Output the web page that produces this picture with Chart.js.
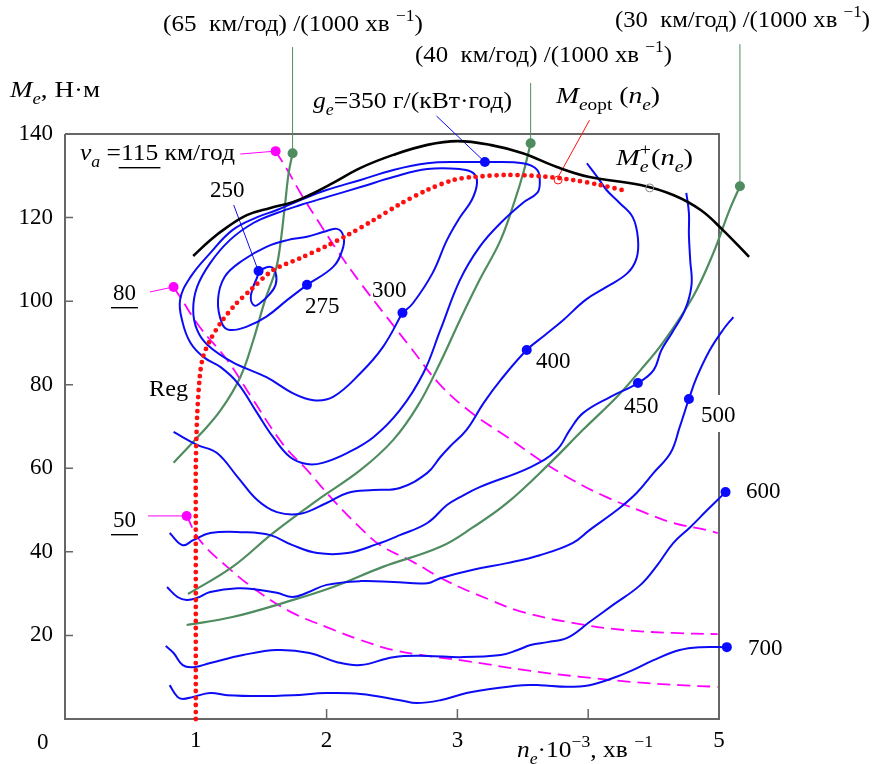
<!DOCTYPE html>
<html>
<head>
<meta charset="utf-8">
<script src="https://cdn.jsdelivr.net/npm/chart.js@4.4.1/dist/chart.umd.min.js"></script>
<style>
  html, body { margin: 0; padding: 0; background: #fff; }
  #wrap { width: 875px; height: 764px; }
</style>
</head>
<body>
<div id="wrap"><canvas id="mapChart" width="875" height="764"></canvas></div>
<script>
// points are [n_e*10^-3 (1/min), M_e (N*m)]
var ge250 = [[1.48,107.3],[1.57,108.2],[1.61,106.8],[1.61,103.9],[1.56,101.5],[1.49,99.5],[1.45,98.9],[1.42,100.7],[1.44,103.5],[1.47,105.8],[1.48,107.3]];
var ge275 = [[1.85,103.9],[2.05,108.2],[2.12,112.2],[2.13,115.4],[2.08,117.3],[1.98,116.6],[1.85,115.4],[1.70,114.6],[1.54,113.0],[1.36,109.8],[1.22,105.8],[1.17,100.3],[1.20,94.7],[1.26,93.1],[1.39,93.9],[1.54,96.3],[1.70,100.3],[1.85,103.9]];
var ge300 = [[2.58,97.2],[2.66,99.5],[2.81,106.7],[2.92,114.6],[3.02,120.1],[3.11,124.2],[3.15,128.3],[3.12,130.7],[3.02,131.6],[2.77,131.6],[2.51,129.7],[2.26,127.3],[2.00,124.9],[1.80,123.0],[1.62,121.1],[1.44,118.7],[1.26,114.6],[1.11,109.1],[1.01,103.4],[0.98,97.9],[1.01,93.1],[1.09,89.5],[1.28,85.4],[1.54,81.8],[1.74,78.0],[1.90,76.3],[2.05,77.1],[2.26,82.8],[2.43,89.0],[2.58,97.2]];
var ge350 = [[3.21,133.3],[3.50,133.0],[3.61,131.4],[3.63,128.3],[3.61,125.9],[3.50,123.5],[3.33,118.7],[3.17,113.0],[3.02,105.1],[2.87,93.1],[2.74,82.8],[2.56,73.9],[2.36,67.5],[2.16,63.7],[1.97,61.3],[1.85,61.0],[1.72,62.7],[1.59,67.5],[1.47,73.2],[1.32,80.4],[1.19,84.2],[1.06,86.6],[0.96,90.0],[0.90,94.8],[0.88,100.3],[0.96,105.8],[1.11,111.5],[1.28,117.0],[1.47,120.1],[1.62,121.8],[1.80,124.2],[2.00,126.6],[2.26,129.0],[2.51,131.4],[2.77,133.0],[3.02,133.3],[3.21,133.3]];
var ge400 = [[3.99,133.0],[4.07,129.7],[4.14,126.6],[4.24,123.5],[4.34,120.1],[4.38,115.1],[4.37,110.3],[4.30,106.7],[4.14,103.4],[3.98,100.3],[3.81,95.5],[3.67,91.9],[3.53,88.3],[3.33,81.1],[3.20,75.6],[3.07,69.2],[2.94,65.1],[2.87,62.7],[2.77,58.9],[2.56,55.3],[2.36,54.8],[2.16,54.1],[2.00,51.7],[1.80,49.1],[1.62,49.5],[1.47,52.4],[1.32,57.9],[1.16,63.7],[1.01,65.6],[0.83,68.7]];
var ge450 = [[0.80,44.5],[0.90,41.6],[0.98,42.8],[1.11,44.5],[1.36,44.7],[1.57,44.0],[1.74,41.6],[1.93,39.7],[2.16,39.7],[2.39,41.9],[2.56,44.0],[2.77,46.9],[2.92,51.2],[3.02,53.1],[3.17,55.5],[3.56,60.3],[3.76,64.4],[3.86,69.2],[3.96,73.2],[4.17,77.1],[4.38,80.4],[4.50,83.5],[4.56,88.3],[4.64,92.4],[4.74,97.9],[4.79,103.9],[4.78,109.8],[4.77,115.8],[4.77,121.1],[4.75,125.9]];
var ge500 = [[0.78,31.6],[0.86,29.2],[0.93,28.5],[1.01,29.0],[1.11,30.4],[1.32,31.3],[1.49,30.9],[1.62,30.2],[1.74,29.2],[1.85,30.2],[2.00,32.1],[2.26,33.0],[2.51,32.8],[2.77,32.5],[2.87,33.7],[3.12,35.7],[3.38,37.3],[3.63,39.2],[3.88,42.1],[4.01,45.2],[4.22,50.0],[4.37,54.1],[4.50,58.9],[4.63,63.7],[4.70,69.9],[4.77,76.6],[4.83,81.8],[4.93,88.3],[5.03,93.1],[5.11,96.2]];
var ge600 = [[0.77,17.5],[0.83,15.8],[0.90,12.9],[0.98,12.4],[1.11,13.4],[1.36,15.3],[1.62,16.5],[1.87,15.8],[2.08,13.6],[2.26,12.9],[2.51,14.8],[2.77,15.1],[3.02,14.8],[3.33,15.3],[3.46,16.5],[3.56,17.7],[3.69,18.4],[3.84,19.4],[4.01,23.2],[4.19,27.3],[4.40,32.1],[4.53,36.9],[4.65,42.1],[4.78,45.9],[4.91,50.0],[5.05,54.3]];
var ge700 = [[0.80,8.1],[0.86,5.3],[0.90,4.8],[0.98,5.3],[1.11,6.2],[1.24,5.7],[1.49,5.5],[1.74,5.7],[2.00,6.2],[2.26,6.0],[2.56,4.5],[2.69,3.8],[2.87,4.5],[3.07,6.2],[3.25,7.2],[3.50,8.1],[3.63,8.1],[3.84,7.7],[4.01,8.1],[4.19,9.8],[4.34,11.7],[4.50,14.1],[4.70,16.5],[4.86,17.2],[5.05,17.2]];

// full-load torque M_e+(n_e) and optimal torque M_eopt(n_e)
var meMax = [[0.98,110.8],[1.11,114.6],[1.24,117.7],[1.39,120.6],[1.57,122.3],[1.74,123.7],[1.87,125.4],[2.05,128.3],[2.26,131.9],[2.51,135.0],[2.77,137.4],[3.00,138.3],[3.25,137.4],[3.50,135.4],[3.76,132.1],[4.01,129.7],[4.40,127.8],[4.65,125.4],[4.86,121.8],[5.03,117.0],[5.23,110.6]];
var meOpt = [[1.0,0],[1.0,28.5],[1.0,47.6],[1.0,60.3],[1.01,72.3],[1.03,81.8],[1.055,86.6],[1.11,90.7],[1.19,94.8],[1.30,99.1],[1.42,102.7],[1.59,107.4],[1.80,110.3],[2.00,113.2],[2.16,115.8],[2.36,119.4],[2.56,123.2],[2.77,126.6],[2.97,129.0],[3.12,129.7],[3.38,130.2],[3.63,129.9],[3.88,129.0],[4.09,127.8],[4.30,126.3]];

// gear lines, (km/h)/(1000 1/min)
var gear65 = [[0.83,61.3],[1.03,68.0],[1.19,73.9],[1.34,81.8],[1.44,90.7],[1.53,100.3],[1.61,107.4],[1.64,112.2],[1.68,122.5],[1.71,130.7],[1.74,135.4]];
var gear40 = [[0.94,29.9],[1.28,36.4],[1.59,44.5],[1.93,52.4],[2.26,59.6],[2.51,66.8],[2.70,75.1],[2.87,85.4],[3.02,95.5],[3.17,105.1],[3.33,114.6],[3.44,124.2],[3.51,131.4],[3.56,137.8]];
var gear30 = [[0.93,22.5],[1.28,24.4],[1.67,27.8],[2.05,31.6],[2.43,36.4],[2.87,41.2],[3.12,45.9],[3.38,51.7],[3.71,61.3],[3.96,69.2],[4.22,77.1],[4.40,83.5],[4.57,90.0],[4.80,101.0],[4.95,111.0],[5.08,121.8],[5.16,127.5]];

// constant vehicle speed, km/h
var va115 = [[1.61,135.9],[1.70,131.4],[1.80,125.9],[1.93,119.4],[2.08,112.2],[2.26,104.3],[2.46,96.2],[2.64,89.0],[2.87,79.9],[3.12,73.0],[3.38,67.5],[3.63,62.0],[3.88,57.2],[4.14,53.1],[4.40,49.8],[4.65,46.9],[4.91,45.2],[4.99,44.5]];
var va80 = [[0.83,103.4],[0.88,101.0],[1.03,93.8],[1.24,85.9],[1.44,76.3],[1.67,65.6],[1.85,59.6],[2.05,52.4],[2.26,45.7],[2.41,41.6],[2.66,37.6],[2.92,33.0],[3.25,28.5],[3.50,25.6],[3.88,23.0],[4.27,21.3],[4.65,20.6],[4.99,20.3]];
var va50 = [[0.93,48.6],[1.03,42.8],[1.24,36.4],[1.49,30.2],[1.74,25.4],[2.00,22.0],[2.26,18.9],[2.51,16.5],[2.77,15.1],[3.02,14.1],[3.56,11.5],[3.94,10.1],[4.32,8.9],[4.70,8.1],[4.99,7.7]];

// label dots and leader lines
var geDots = [[1.48,107.2],[1.85,103.9],[2.58,97.2],[3.21,133.3],[3.53,88.3],[4.38,80.4],[4.77,76.6],[5.05,54.3],[5.06,17.2]];
var vaDots = [[1.61,135.9],[0.83,103.4],[0.93,48.6]];
var gearDots = [[1.74,135.4],[3.56,137.8],[5.16,127.5]];
var lead250 = [[1.29,123.0],[1.47,107.9]];
var lead350 = [[2.84,144.3],[3.21,133.3]];
var leadOpt = [[4.01,143.3],[3.77,129.7]];
var lead115 = [[1.34,135.2],[1.61,135.9]];
var lead80 = [[0.65,102.2],[0.83,103.4]];
var lead50 = [[0.635,48.6],[0.93,48.6]];
var lead65 = [[1.74,135.4],[1.74,160.8]];
var lead40 = [[3.56,137.8],[3.56,152.2]];
var lead30 = [[5.16,127.5],[5.16,161.5]];
var optMark = [[3.77,129.0]];
var maxMark = [[4.47,127.1]];

var xTicks = [1, 2, 3, 5];
var yTicks = [20, 40, 60, 80, 100, 120, 140];
var X_END = 5, Y_END = 140;   // the framed part of the plot

function pts(a) { return a.map(function (p) { return { x: p[0], y: p[1] }; }); }

var BLUE = '#0c0cf4', GREEN = '#4f8c5f', PINK = '#ff00ff', RED = '#ff1010';
var SERIF = '"Liberation Serif", "Times New Roman", serif';

function curve(data, color, width, extra) {
  return Object.assign({
    data: pts(data), showLine: true, borderColor: color, borderWidth: width,
    pointRadius: 0, tension: 0.4, clip: false, fill: false
  }, extra || {});
}
function thin(data, color) {
  return curve(data, color, 1, { tension: 0 });
}
function dots(data, color, r) {
  return { data: pts(data), showLine: false, pointRadius: r, backgroundColor: color, borderWidth: 0, clip: false };
}
function ring(data, color) {
  return { data: pts(data), showLine: false, pointRadius: 4, backgroundColor: 'rgba(0,0,0,0)', borderColor: color, borderWidth: 1, clip: false };
}

// text with sub/superscripts, optionally stretched to a given width
function runs(ctx, x, y, parts, size, width) {
  var setFont = function (p) {
    var fs = (p.sub || p.sup) ? Math.round(size * 0.68) : size;
    ctx.font = (p.it ? 'italic ' : '') + fs + 'px ' + SERIF;
  };
  var total = 0;
  parts.forEach(function (p) { setFont(p); if (!p.keep) total += ctx.measureText(p.t).width; });
  var sx = width ? width / total : 1;
  ctx.save();
  ctx.translate(x, y);
  ctx.scale(sx, 1);
  var cx = 0;
  parts.forEach(function (p) {
    setFont(p);
    var dy = p.sub ? size * 0.3 : (p.sup ? -size * 0.42 : 0);
    ctx.fillText(p.t, cx, dy);
    var w = ctx.measureText(p.t).width;
    if (p.u) { ctx.fillRect(cx - 2, 7, w + 4, 1.4); }
    if (!p.keep) cx += w;
  });
  ctx.restore();
}

var decor = {
  id: 'decor',
  beforeDatasetsDraw: function (chart) {
    var ctx = chart.ctx, xs = chart.scales.x, ys = chart.scales.y;
    var L = xs.getPixelForValue(0), R = xs.getPixelForValue(X_END);
    var T = ys.getPixelForValue(Y_END), B = ys.getPixelForValue(0);
    ctx.save();
    ctx.strokeStyle = '#666';
    ctx.lineWidth = 2;
    ctx.beginPath();
    ctx.moveTo(L, T); ctx.lineTo(L, B); ctx.lineTo(R, B);
    ctx.lineTo(R, 432);
    ctx.moveTo(R, 395); ctx.lineTo(R, T); ctx.lineTo(L, T);
    ctx.stroke();
    ctx.lineWidth = 1.5;
    ctx.beginPath();
    [2, 3, 4].forEach(function (v) {
      var px = xs.getPixelForValue(v);
      ctx.moveTo(px, B); ctx.lineTo(px, B - 10);
    });
    yTicks.slice(0, -1).forEach(function (v) {
      var py = ys.getPixelForValue(v);
      ctx.moveTo(L, py); ctx.lineTo(L + 8, py);
    });
    ctx.stroke();
    ctx.restore();
  },
  afterDatasetsDraw: function (chart) {
    var ctx = chart.ctx;
    ctx.save();
    ctx.fillStyle = '#000';
    ctx.textBaseline = 'alphabetic';
    ctx.textAlign = 'left';
    var S = 23;
    var gearTxt = function (v) {
      return [{ t: '(' + v + '  км/год) /(1000 хв ' }, { t: '−1', sup: true }, { t: ')' }];
    };
    runs(ctx, 163, 31, gearTxt(65), S, 260);
    runs(ctx, 415, 62, gearTxt(40), S, 257);
    runs(ctx, 615, 27, gearTxt(30), S, 255);
    runs(ctx, 10, 97, [{ t: 'M', it: true }, { t: 'e', it: true, sub: true }, { t: ', Н·м' }], S, 90);
    runs(ctx, 313, 108, [{ t: 'g', it: true }, { t: 'e', it: true, sub: true }, { t: '=350 г/(кВт·год)' }], S, 199);
    runs(ctx, 556, 103, [{ t: 'M', it: true }, { t: 'e', it: true, sub: true }, { t: 'opt', sub: true }, { t: ' (' }, { t: 'n', it: true }, { t: 'e', it: true, sub: true }, { t: ')' }], S, 104);
    runs(ctx, 80, 160, [{ t: 'v', it: true }, { t: 'a', it: true, sub: true }, { t: ' =' }, { t: '115', u: true }, { t: ' км/год' }], S, 155);
    runs(ctx, 616, 165, [{ t: 'M', it: true }, { t: 'e', it: true, sub: true, keep: true }, { t: '+', sup: true }, { t: '(' }, { t: 'n', it: true }, { t: 'e', it: true, sub: true }, { t: ')' }], S, 77);
    runs(ctx, 517, 757, [{ t: 'n', it: true }, { t: 'e', it: true, sub: true }, { t: '·10' }, { t: '−3', sup: true }, { t: ', хв ' }, { t: '−1', sup: true }], S, 136);
    runs(ctx, 113, 300, [{ t: '80', u: true }], S);
    runs(ctx, 113, 527, [{ t: '50', u: true }], S);
    runs(ctx, 149, 396, [{ t: 'Reg' }], S, 39);
    ctx.font = S + 'px ' + SERIF;
    [['250', 210, 197], ['275', 305, 313], ['300', 372, 297], ['400', 536, 368], ['450', 624, 413],
     ['500', 701, 422], ['600', 746, 498], ['700', 748, 655], ['0', 37, 749]].forEach(function (l) {
      ctx.fillText(l[0], l[1], l[2]);
    });
    ctx.restore();
  }
};

var dash = [13, 7];

new Chart(document.getElementById('mapChart').getContext('2d'), {
  type: 'scatter',
  data: {
    datasets: [
      dots(geDots, '#0a0aff', 5),
      dots(vaDots, PINK, 5),
      dots(gearDots, GREEN, 5),
      ring(optMark, RED),
      ring(maxMark, '#888'),
      curve(meOpt, RED, 4.8, { tension: 0.3, borderDash: [0, 7], borderCapStyle: 'round' }),
      curve(meMax, '#000', 2.6),
      curve(ge250, BLUE, 2),
      curve(ge275, BLUE, 2),
      curve(ge300, BLUE, 2),
      curve(ge350, BLUE, 2),
      curve(ge400, BLUE, 2),
      curve(ge450, BLUE, 2),
      curve(ge500, BLUE, 2),
      curve(ge600, BLUE, 2),
      curve(ge700, BLUE, 2),
      thin(lead250, BLUE),
      thin(lead350, BLUE),
      thin(leadOpt, RED),
      curve(gear65, GREEN, 2.2),
      curve(gear40, GREEN, 2.2),
      curve(gear30, GREEN, 2.2),
      thin(lead65, GREEN),
      thin(lead40, GREEN),
      thin(lead30, GREEN),
      curve(va115, PINK, 1.8, { borderDash: dash }),
      curve(va80, PINK, 1.8, { borderDash: dash }),
      curve(va50, PINK, 1.8, { borderDash: dash }),
      thin(lead115, PINK),
      thin(lead80, PINK),
      thin(lead50, PINK)
    ]
  },
  options: {
    responsive: false,
    animation: false,
    // plot area runs to 5.3 x 162 so the marks drawn past the frame stay visible
    layout: { padding: { left: 0, right: 116.76, top: 42.07, bottom: 0 } },
    elements: { line: { capBezierPoints: false } },
    plugins: { legend: { display: false }, tooltip: { enabled: false } },
    scales: {
      x: {
        type: 'linear', min: 0, max: 5.3,
        afterFit: function (s) { s.height = 45; },
        afterBuildTicks: function (s) { s.ticks = xTicks.map(function (v) { return { value: v }; }); },
        grid: { display: false, drawTicks: false },
        border: { display: false },
        ticks: { padding: 8, color: '#000', maxRotation: 0, autoSkip: false, font: { family: SERIF, size: 23 } }
      },
      y: {
        min: 0, max: 162,
        afterFit: function (s) { s.width = 65; },
        afterBuildTicks: function (s) { s.ticks = yTicks.map(function (v) { return { value: v }; }); },
        grid: { display: false, drawTicks: false },
        border: { display: false },
        ticks: { padding: 12, color: '#000', font: { family: SERIF, size: 23 } }
      }
    }
  },
  plugins: [decor]
});
</script>
</body>
</html>
